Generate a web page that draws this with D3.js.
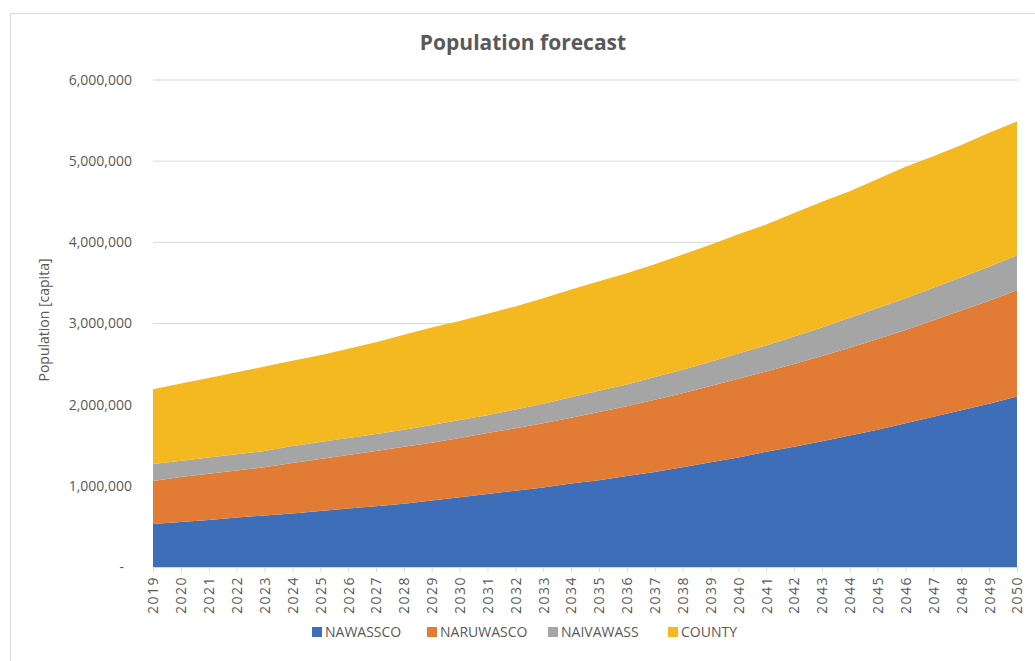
<!DOCTYPE html>
<html>
<head>
<meta charset="utf-8">
<script src="https://cdn.jsdelivr.net/npm/d3@7"></script>
<style>
  body { margin: 0; background: #fff; }
  text { font-family: "Open Sans", "Noto Sans", sans-serif; fill: #595959; }
</style>
</head>
<body>
<div id="chart"></div>
<script>
// years on the x axis
const years = d3.range(2019, 2051);

// population per service area, in thousands
const nawassco = [530, 555, 580, 610, 635, 660, 690, 720, 750, 780, 820, 860, 900, 940, 980, 1030,
  1070, 1120, 1170, 1230, 1290, 1350, 1420, 1480, 1550, 1620, 1690, 1770, 1850, 1930, 2010, 2100];
const naruwasco = [530, 555, 570, 580, 595, 620, 640, 660, 680, 700, 710, 730, 750, 770, 790, 810,
  840, 860, 890, 910, 940, 970, 990, 1020, 1050, 1080, 1120, 1150, 1190, 1230, 1270, 1310];
const naivawass = [210, 200, 200, 200, 200, 210, 210, 210, 210, 210, 220, 220, 220, 230, 240, 250,
  260, 270, 280, 290, 300, 310, 320, 340, 350, 370, 380, 390, 400, 410, 420, 430];
const county = [920, 950, 980, 1010, 1040, 1050, 1070, 1100, 1130, 1170, 1200, 1220, 1250, 1270, 1300, 1330,
  1350, 1370, 1390, 1420, 1440, 1470, 1490, 1520, 1550, 1560, 1590, 1620, 1620, 1630, 1650, 1650];

const seriesNames = ["NAWASSCO", "NARUWASCO", "NAIVAWASS", "COUNTY"];
const seriesColors = ["#3f6eb9", "#e27b34", "#a5a5a5", "#f4b920"];
const yTicks = [0, 1000000, 2000000, 3000000, 4000000, 5000000, 6000000];

// table for d3.stack
const rows = years.map((yr, i) => ({
  year: yr,
  NAWASSCO: nawassco[i] * 1000,
  NARUWASCO: naruwasco[i] * 1000,
  NAIVAWASS: naivawass[i] * 1000,
  COUNTY: county[i] * 1000,
}));

const width = 1035, height = 661;
const svg = d3.select("#chart").append("svg")
  .attr("width", width).attr("height", height);

// chart frame
svg.append("rect")
  .attr("x", 10.5).attr("y", 13.5)
  .attr("width", 1100).attr("height", 700)
  .attr("fill", "none").attr("stroke", "#d9d9d9");

const x = d3.scalePoint().domain(years).range([153, 1017]);
const y = d3.scaleLinear().domain([0, 6000000]).range([567, 80]);

// title
svg.append("text")
  .attr("x", 523).attr("y", 50)
  .attr("text-anchor", "middle")
  .style("font-size", "21px").style("font-weight", "bold")
  .text("Population forecast");

// gridlines
svg.append("g").selectAll("line")
  .data(yTicks.slice(1))
  .join("line")
  .attr("x1", 153).attr("x2", 1017)
  .attr("y1", d => y(d)).attr("y2", d => y(d))
  .attr("stroke", "#d9d9d9");

// stacked areas
const stack = d3.stack().keys(seriesNames);
const layers = stack(rows);
const area = d3.area()
  .x(d => x(d.data.year))
  .y0(d => y(d[0]))
  .y1(d => y(d[1]));

svg.append("g").selectAll("path")
  .data(layers)
  .join("path")
  .attr("d", area)
  .attr("fill", (d, i) => seriesColors[i]);

// y axis
const yAxis = d3.axisLeft(y)
  .tickValues(yTicks)
  .tickSize(0)
  .tickPadding(0)
  .tickFormat(d => d === 0 ? "-" : d3.format(",")(d));
const gy = svg.append("g").attr("transform", "translate(132,0)").call(yAxis);
gy.select(".domain").remove();
gy.selectAll("text")
  .style("font-size", "14px")
  .style("font-family", "'Open Sans', sans-serif")
  .attr("fill", "#6b6b6b");
gy.selectAll(".tick").filter(d => d === 0).select("text").attr("dx", -8);

svg.append("text")
  .attr("transform", "translate(49,320) rotate(-90)")
  .attr("text-anchor", "middle")
  .style("font-size", "14px")
  .text("Population [capita]");

// x axis
const xAxis = d3.axisBottom(x).tickSize(5).tickPadding(0);
const gx = svg.append("g").attr("transform", "translate(0,567)").call(xAxis);
gx.select(".domain").attr("stroke", "#d9d9d9");
gx.selectAll(".tick line").attr("stroke", "#d9d9d9");
gx.selectAll("text")
  .attr("transform", "translate(0,9) rotate(-90)")
  .attr("text-anchor", "end")
  .attr("x", 0).attr("y", 0).attr("dy", "0.35em")
  .style("font-size", "14px")
  .style("letter-spacing", "1.5px")
  .style("font-family", "'Open Sans', sans-serif")
  .attr("fill", "#595959");

// legend
const legendX = [312, 427, 548, 668];
const legend = svg.append("g").selectAll("g")
  .data(seriesNames)
  .join("g")
  .attr("transform", (d, i) => `translate(${legendX[i]},632)`);
legend.append("rect")
  .attr("x", 0).attr("y", -5)
  .attr("width", 10).attr("height", 10)
  .attr("fill", (d, i) => seriesColors[i]);
legend.append("text")
  .attr("x", 13).attr("dy", "0.35em")
  .style("font-size", "14px")
  .text(d => d);
</script>
</body>
</html>
